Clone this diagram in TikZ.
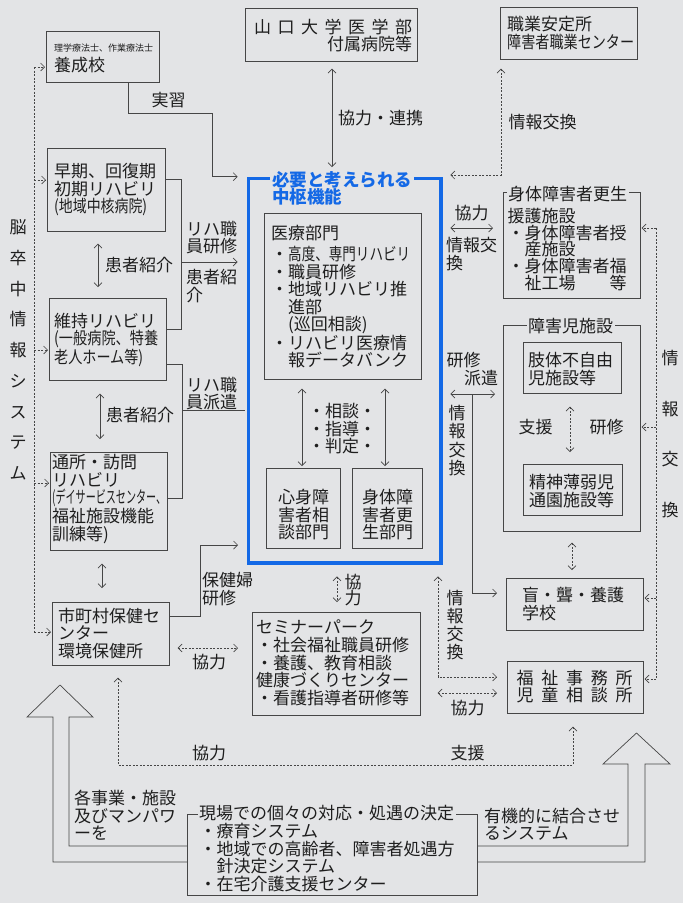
\documentclass[tikz,border=0pt]{standalone}
\usepackage{fontspec}
\setmainfont{Noto Sans CJK JP}
\usepackage{graphicx}
\usetikzlibrary{arrows.meta}
\definecolor{bg}{RGB}{227,228,230}
\definecolor{ln}{RGB}{70,70,70}
\definecolor{tx}{RGB}{30,30,30}
\definecolor{blu}{RGB}{20,105,230}
\newcommand\sx[2]{\resizebox{#1pt}{\height}{#2}}
\newcommand\ind{\hspace*{1em}}
\begin{document}
\begin{tikzpicture}[x=1pt,y=-1pt, font=\fontsize{17}{17.5}\selectfont,
  box/.style={draw=ln, line width=0.7pt, anchor=north west, inner sep=0pt},
  txt/.style={align=left, inner sep=0pt, text=tx},
  ttl/.style={fill=bg, inner xsep=1.5pt, inner ysep=0pt, text=tx, anchor=west},
  sol/.style={draw=ln, line width=0.7pt},
  dsh/.style={draw=ln, line width=0.6pt, dash pattern=on 2pt off 1.5pt},
  arr/.style={-{Straight Barb[length=4pt,width=8pt]}},
  darr/.style={{Straight Barb[length=4pt,width=8pt]}-{Straight Barb[length=4pt,width=8pt]}}]
\useasboundingbox (0,0) rectangle (683,903);
\fill[bg] (0,0) rectangle (683,903);

% boxes
\node[box, minimum width=113, minimum height=51] (yosei) at (46,31) {};
\node[box, minimum width=172, minimum height=53] (yamaguchi) at (245,8) {};
\node[box, minimum width=137, minimum height=52] (shokugyo) at (500,7) {};
\node[box, minimum width=118, minimum height=83] (sooki) at (47,148) {};
\node[box, minimum width=117, minimum height=82] (iji) at (49,298) {};
\node[box, minimum width=117, minimum height=98] (tsusho) at (50,452) {};
\node[box, minimum width=117, minimum height=63] (shicho) at (52,602) {};
\node[box, minimum width=157, minimum height=166] (iryo) at (264,213) {};
\node[box, minimum width=74, minimum height=80] (shinshin) at (266,468) {};
\node[box, minimum width=70, minimum height=80] (shintai) at (352,468) {};
\node[box, minimum width=137, minimum height=106] (kosei) at (503,192) {};
\node[box, minimum width=137, minimum height=206] (shogaiji) at (503,325) {};
\node[box, minimum width=98, minimum height=51] (shitai) at (523,342) {};
\node[box, minimum width=99, minimum height=51] (seishin) at (523,464) {};
\node[box, minimum width=137, minimum height=52] (mou) at (506,578) {};
\node[box, minimum width=136, minimum height=52] (fukushi) at (507,661) {};
\node[box, minimum width=168, minimum height=103] (seminar) at (252,612) {};
\node[box, minimum width=290, minimum height=81] (genba) at (187,814) {};

% connectors left
\draw[sol] (sooki.east |- 0,179) -| (181,329) -- (iji.east |- 0,329);
\draw[sol] (iji.east |- 0,364) -| (182,498) -- (tsusho.east |- 0,498);
\draw[sol,darr,shorten <=12pt,shorten >=11pt] (sooki.south -| 98,0) -- (iji.north -| 98,0);
\draw[sol,darr,shorten <=13pt,shorten >=13pt] (iji.south -| 100,0) -- (tsusho.north -| 100,0);
\draw[sol,darr,shorten <=13pt,shorten >=14pt] (tsusho.south -| 102,0) -- (shicho.north -| 102,0);
\draw[dsh] (34,67) -- (34,632);
\foreach \n/\y in {yosei/67, sooki/180, iji/350, tsusho/483, shicho/632}
  \draw[dsh,arr,shorten >=1pt] (34,\y) -- (\n.west |- 0,\y);

% hub (blue)
\node[box, draw=blu, line width=3.4pt, minimum width=192.6, minimum height=384.6] (hub) at (246.7,176.7) {};
\draw[sol,arr] (yosei.south -| 128,0) |- (212,113) |- ([xshift=-9pt]hub.north west);
\draw[sol,arr,shorten >=9pt] (181,262) -- (hub.west |- 0,262);
\draw[sol,shorten >=1.7pt] (182,410) -- (hub.west |- 0,410);
\draw[sol,arr,shorten >=8.7pt] (shicho.east |- 0,616) -| (200,545) -- (hub.west |- 0,545);
\draw[sol,darr,shorten <=7pt,shorten >=9.7pt] (yamaguchi.south -| 332,0) -- (hub.north -| 332,0);
\draw[dsh,darr,shorten <=9pt,shorten >=7.7pt] (shokugyo.south -| 501,0) |- (hub.east |- 0,175);
\draw[sol,darr,shorten <=7.7pt,shorten >=10pt] (hub.east |- 0,228) -- (kosei.west |- 0,228);
\draw[sol,darr,shorten <=7.7pt,shorten >=8pt] (hub.east |- 0,394) -- (shogaiji.west |- 0,394);
\draw[sol,arr,shorten >=9pt] (472,394) |- (mou.west |- 0,593);
\draw[dsh,darr,shorten <=11.7pt,shorten >=10pt] (hub.south -| 337,0) -- (seminar.north -| 337,0);
\draw[dsh,darr,shorten <=11.7pt,shorten >=10pt] (hub.south -| 438,0) |- (fukushi.west |- 0,677);
\draw[dsh,darr,shorten <=17pt,shorten >=10pt] (seminar.east |- 0,693) -- (fukushi.west |- 0,693);
\draw[dsh,darr,shorten <=8pt,shorten >=14pt] (shicho.east |- 0,648) -- (seminar.west |- 0,648);
\draw[dsh,darr,shorten <=12pt,shorten >=13pt] (shicho.south -| 118,0) |- (573,765) -- (fukushi.south -| 573,0);
\draw[dsh,darr,shorten <=11pt,shorten >=8pt] (shogaiji.south -| 572,0) -- (mou.north -| 572,0);
\draw[dsh,darr,shorten <=13pt,shorten >=12pt] (shitai.south -| 570,0) -- (seishin.north -| 570,0);
\draw[sol,darr,shorten <=9pt,shorten >=2pt] (iryo.south -| 302,0) -- (shinshin.north -| 302,0);
\draw[sol,darr,shorten <=9pt,shorten >=2pt] (iryo.south -| 385,0) -- (shintai.north -| 385,0);
\draw[dsh] (656,228) -- (656,679);
\foreach \n/\y in {kosei/228, shogaiji/427, mou/598, fukushi/679}
  \draw[dsh,arr,shorten >=1pt] (656,\y) -- (\n.east |- 0,\y);

% big hollow arrows
\draw[ln, line width=0.7pt] (genba.west |- 0,862) -- (53,862) -- (53,717) -- (27,717) -- (60,685) -- (93,717) -- (69,717) -- (69,846) -- (genba.west |- 0,846);
\draw[ln, line width=0.7pt] (genba.east |- 0,846) -- (628,846) -- (628,764) -- (603,764) -- (636.5,733) -- (670,764) -- (645,764) -- (645,862) -- (genba.east |- 0,862);

% titles on borders
\node[ttl, text=blu, font=\fontsize{17.5}{17}\selectfont\bfseries, align=left, inner xsep=2pt] at (270,188.5) {必要と考えられる\\中枢機能};
\node[ttl] at (506.5,194) {身体障害者更生};
\node[ttl] at (526.5,326) {障害児施設};
\node[ttl] at (197.5,813.5) {現場での個々の対応・処遇の決定};

% box texts
\node[txt,anchor=west,font=\fontsize{9}{9}\selectfont] at (54,48) {理学療法士、作業療法士};
\node[txt,anchor=west] at (54,65) {養成校};
\node[txt,anchor=west] at (254,35.5) {\makebox[158pt][s]{山\hfil 口\hfil 大\hfil 学\hfil 医\hfil 学\hfil 部}\\\makebox[158pt][r]{付属病院等}};
\node[txt,anchor=west] at (507,33) {職業安定所\\\sx{127}{障害者職業センター}};
\node[txt,anchor=west] at (54,190) {早期、回復期\\初期リハビリ\\\sx{93}{(地域中核病院)}};
\node[txt,anchor=west] at (54,340) {維持リハビリ\\\sx{104}{(一般病院、特養}\\\sx{89}{老人ホーム等)}};
\node[txt,anchor=west] at (52,499) {通所・訪問\\リハビリ\\\sx{114}{(デイサービスセンター、}\\福祉施設機能\\訓練等)};
\node[txt,anchor=west] at (58,633) {市町村保健セ\\ンター\\環境保健所};
\node[txt,anchor=west] at (271,296.5) {医療部門\\[4pt]・\sx{122}{高度、専門リハビリ}\\・職員研修\\・地域リハビリ推\\\ind 進部\\\ind (巡回相談)\\・リハビリ医療情\\\ind 報データバンク};
\node[txt,align=center] at (342,429) {・相談・\\・指導・\\・判定・};
\node[txt,align=center] at (303.5,515) {心身障\\害者相\\談部門};
\node[txt,align=center] at (387.5,515) {身体障\\害者更\\生部門};
\node[txt,anchor=west,font=\fontsize{17}{16.8}\selectfont] at (507.5,249.5) {援護施設\\・身体障害者授\\\ind 産施設\\・身体障害者福\\\ind 祉工場\hspace{2em}等};
\node[txt,anchor=west] at (528,369) {肢体不自由\\児施設等};
\node[txt,anchor=west] at (529,491) {精神薄弱児\\通園施設等};
\node[txt] at (535.5,427) {支援};
\node[txt] at (606.5,427) {研修};
\node[txt,anchor=west] at (522,604) {盲・聾・養護\\学校};
\node[txt,anchor=west,font=\fontsize{17}{17}\selectfont] at (516.5,686.5) {\makebox[116pt][s]{福\hfil 祉\hfil 事\hfil 務\hfil 所}\\\makebox[116pt][s]{児\hfil 童\hfil 相\hfil 談\hfil 所}};
\node[txt,anchor=west,font=\fontsize{17}{17.8}\selectfont] at (256,663) {セミナーパーク\\・社会福祉職員研修\\・養護、教育相談\\健康づくりセンター\\・看護指導者研修等};
\node[txt,anchor=west,font=\fontsize{17}{17.4}\selectfont] at (199.5,857.5) {・療育システム\\・地域での高齢者、障害者処遇方\\\ind 針決定システム\\・在宅介護支援センター};

% labels
\node[txt] at (168.5,100) {実習};
\node[txt] at (380.5,118) {協力・連携};
\node[txt] at (542.5,122) {情報交換};
\node[txt] at (139,265) {患者紹介};
\node[txt] at (140,415) {患者紹介};
\node[txt,anchor=west] at (186,237.5) {リハ職\\員研修};
\node[txt,anchor=west] at (186,286) {患者紹\\介};
\node[txt,anchor=west] at (186,393.5) {リハ職\\員派遣};
\node[txt,anchor=west] at (202,589) {保健婦\\研修};
\node[txt] at (471.5,213) {協力};
\node[txt,anchor=west] at (446,254) {情報交\\換};
\node[txt] at (463.5,360) {研修};
\node[txt] at (481,378) {派遣};
\node[txt,align=center,font=\fontsize{17}{18.3}\selectfont] at (457,440.5) {情\\報\\交\\換};
\node[txt,align=center,font=\fontsize{17}{16}\selectfont] at (353,590) {協\\力};
\node[txt,align=center,font=\fontsize{17}{18}\selectfont] at (455,625) {情\\報\\交\\換};
\node[txt] at (209,662) {協力};
\node[txt] at (209,753) {協力};
\node[txt] at (467.5,753) {支援};
\node[txt] at (467.5,708) {協力};
\node[txt,anchor=west] at (74,815.5) {各事業・施設\\及びマンパワ\\ーを};
\node[txt,anchor=west] at (484,824) {有機的に結合させ\\るシステム};
\node[txt,align=center,font=\fontsize{17}{30.75}\selectfont] at (18,350) {脳\\卒\\中\\情\\報\\シ\\ス\\テ\\ム};
\node[txt,align=center,font=\fontsize{17}{50.7}\selectfont] at (670,434) {情\\報\\交\\換};
\end{tikzpicture}
\end{document}
